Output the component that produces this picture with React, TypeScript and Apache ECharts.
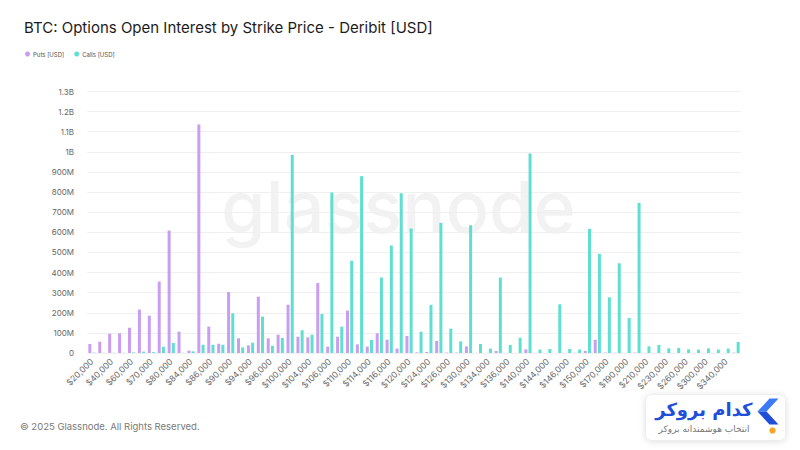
import React, { useEffect, useRef } from "react";
import * as echarts from "echarts";

const strikes = [
  20000, 30000, 40000, 50000, 60000, 65000, 70000, 75000, 80000, 82000,
  84000, 85000, 86000, 88000, 90000, 92000, 94000, 95000, 96000, 98000,
  100000, 102000, 104000, 105000, 106000, 108000, 110000, 112000, 114000, 115000,
  116000, 118000, 120000, 122000, 124000, 125000, 126000, 128000, 130000, 132000,
  134000, 135000, 136000, 138000, 140000, 142000, 144000, 145000, 146000, 148000,
  150000, 160000, 170000, 180000, 190000, 200000, 210000, 220000, 230000, 240000,
  260000, 280000, 300000, 320000, 340000, 360000,
];

// values in millions of USD
const putsM = [
  45, 56, 96, 98, 126, 216, 186, 355, 609, 106,
  12, 1136, 131, 46, 303, 73, 38, 280, 73, 91,
  240, 81, 78, 348, 32, 81, 211, 43, 32, 98,
  66, 22, 85, 3, 5, 60, 2, 2, 33, 0.5,
  0.5, 10, 0.5, 0.5, 18, 0.3, 0.3, 0.3, 0.3, 1,
  10, 66, 2, 1, 0.5, 2, 0.3, 0.3, 0.3, 0.3,
  0.3, 0.3, 0.3, 0.3, 0.3, 2,
];

const callsM = [
  2, 1, 1, 1, 3, 7, 4, 31, 50, 1,
  8, 41, 41, 41, 197, 28, 51, 181, 36, 75,
  985, 113, 91, 194, 798, 131, 459, 879, 65, 375,
  534, 794, 619, 106, 239, 647, 121, 58, 635, 45,
  22, 375, 40, 76, 992, 17, 20, 242, 20, 17,
  617, 493, 277, 446, 174, 746, 33, 40, 23, 25,
  18, 17, 23, 17, 22, 55,
];

const TITLE = "BTC: Options Open Interest by Strike Price - Deribit [USD]";
const PUTS = "Puts [USD]";
const CALLS = "Calls [USD]";
const FOOTER = "© 2025 Glassnode. All Rights Reserved.";

const PURPLE = "#c99df1";
const CYAN = "#5fdfd2";

function fmtY(v: number): string {
  if (v === 0) return "0";
  if (v >= 1e9) return `${+(v / 1e9).toFixed(1)}B`;
  return `${Math.round(v / 1e6)}M`;
}

function fmtX(v: string): string {
  return "$" + Number(v).toLocaleString("en-US");
}

export default function App() {
  const ref = useRef<HTMLDivElement>(null);
  useEffect(() => {
    if (!ref.current) return;
    const chart = echarts.init(ref.current, undefined, { renderer: "svg" });
    const font = "Inter, 'Noto Sans', sans-serif";
    chart.setOption({
      animation: false,
      backgroundColor: "#ffffff",
      textStyle: { fontFamily: font },
      title: {
        text: TITLE,
        left: 19,
        top: 15,
        textStyle: { fontSize: 15, fontWeight: "normal", color: "#1c1c1c", fontFamily: font },
      },
      legend: {
        left: 20,
        top: 46,
        icon: "circle",
        itemWidth: 5,
        itemHeight: 5,
        itemGap: 10,
        textStyle: { fontSize: 6, color: "#555", fontFamily: font, padding: [0, 0, 0, -2] },
        data: [PUTS, CALLS],
      },
      grid: { left: 87, right: 59, top: 91.5, bottom: 97 },
      xAxis: {
        type: "category",
        data: strikes.map(String),
        axisLine: { show: false },
        axisTick: { show: false },
        axisLabel: {
          interval: 1,
          rotate: 45,
          fontSize: 8.5,
          color: "#666",
          margin: 7,
          formatter: fmtX,
        },
      },
      yAxis: {
        type: "value",
        min: 0,
        max: 1.3e9,
        interval: 1e8,
        axisLine: { show: false },
        axisTick: { show: false },
        axisLabel: { fontSize: 8, color: "#666", margin: 13, formatter: fmtY },
        splitLine: { lineStyle: { color: "#f0f0f0", width: 1 } },
      },
      series: [
        {
          name: PUTS,
          type: "bar",
          data: putsM.map((v) => v * 1e6),
          itemStyle: { color: PURPLE },
          barWidth: 3,
          barGap: "40%",
          z: 3,
        },
        {
          name: CALLS,
          type: "bar",
          data: callsM.map((v) => v * 1e6),
          itemStyle: { color: CYAN },
          barWidth: 3,
          z: 3,
        },
      ],
      graphic: [
        {
          type: "text",
          left: 221,
          top: 170,
          z: 0,
          silent: true,
          style: {
            text: "glassnode",
            fontSize: 72,
            fontFamily: font,
            fontWeight: 500,
            fill: "rgba(0,0,0,0.05)",
          },
        },
        {
          type: "text",
          left: 20,
          top: 421,
          style: { text: FOOTER, fontSize: 9.5, fontFamily: font, fill: "#7a7a7a" },
        },
        {
          type: "group",
          left: 645,
          top: 394,
          children: [
            {
              type: "rect",
              shape: { x: 0, y: 0, width: 140, height: 46, r: 6 },
              style: {
                fill: "#ffffff",
                stroke: "#eeeeee",
                lineWidth: 1,
                shadowBlur: 6,
                shadowColor: "rgba(0,0,0,0.12)",
                shadowOffsetY: 1,
              },
            },
            {
              type: "text",
              x: 107,
              y: 15,
              style: {
                text: "کدام بروکر",
                fontSize: 18,
                fontWeight: "bold",
                fontFamily: "'DejaVu Sans', sans-serif",
                fill: "#1f4fd8",
                align: "right",
                verticalAlign: "middle",
              },
            },
            {
              type: "text",
              x: 104,
              y: 34,
              style: {
                text: "انتخاب هوشمندانه بروکر",
                fontSize: 9,
                fontFamily: "'DejaVu Sans', sans-serif",
                fill: "#777",
                align: "right",
                verticalAlign: "middle",
              },
            },
            {
              type: "polygon",
              shape: { points: [[124, 4], [133, 4], [121, 17], [112, 17]] },
              style: { fill: "#3b7bf6" },
            },
            {
              type: "polygon",
              shape: { points: [[112, 17], [121, 17], [133, 30], [124, 30]] },
              style: { fill: "#1f4fd8" },
            },
            {
              type: "circle",
              shape: { cx: 127, cy: 36, r: 3.2 },
              style: { fill: "#f5a623" },
            },
          ],
        },
      ],
    });
    return () => chart.dispose();
  }, []);
  return (
    <div
      ref={ref}
      style={{ position: "absolute", left: 0, top: 0, width: 800, height: 450 }}
    />
  );
}
